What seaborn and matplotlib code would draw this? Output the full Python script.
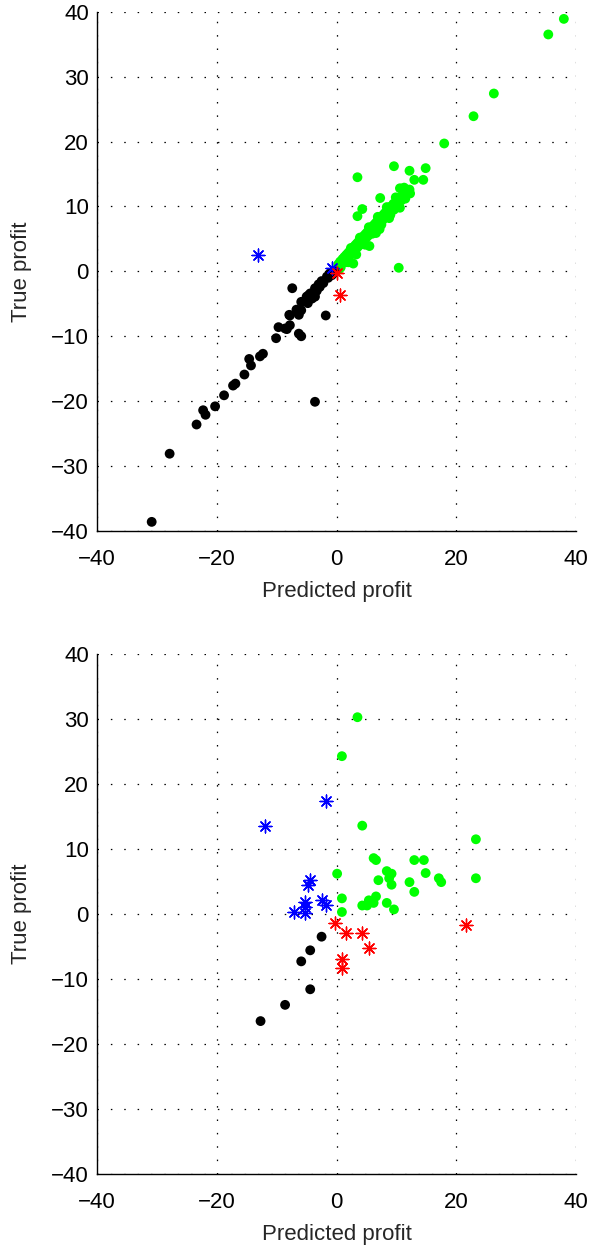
import matplotlib
matplotlib.use("Agg")
import matplotlib.pyplot as plt
import seaborn as sns
import pandas as pd

# ---------------- data: top panel ----------------
top_green_x = [38.0, 35.4, 26.3, 22.9, 18.0, 9.6, 12.2, 14.9, 13.0, 14.5, 3.5, 10.6,
               12.3, 11.5, 7.3, 4.3, 3.5, 9.6, 10.4, 2.8, 5.5,
               0.3, 0.5, 0.6, 0.8, 1.0, 1.1, 1.3, 1.4, 1.6, 1.7, 1.9, 2.0, 2.2, 2.3,
               2.5, 2.6, 2.8, 2.9, 3.1, 3.2, 3.4, 3.5, 3.7, 3.8, 4.0, 4.1, 4.3, 4.4,
               4.6, 4.7, 4.9, 5.0, 5.2, 5.3, 5.5, 5.6, 5.8, 5.9, 6.1, 6.2, 6.4, 6.5,
               6.7, 6.8, 7.0, 7.1, 7.3, 7.4, 7.6, 7.7, 7.9, 8.0, 8.2, 8.3, 8.5, 8.6,
               8.8, 8.9, 9.1, 9.2, 9.5, 9.7, 10.0, 10.2, 10.5, 10.8, 11.1, 11.5,
               11.8, 12.2, 9.0, 7.5, 6.0, 4.5, 3.0, 1.5, 0.2, 0.4, 0.7, 8.8, 6.6,
               2.4, 3.9, 5.4, 6.9, 8.4, 9.9, 11.3, 4.8, 7.2, 10.6, 2.0, 3.3]
top_green_y = [38.9, 36.5, 27.4, 23.9, 19.7, 16.2, 15.5, 15.9, 14.1, 14.1, 14.5, 12.8,
               12.0, 11.2, 11.3, 9.6, 8.5, 9.5, 0.55, 1.2, 3.9,
               1.1, 0.8, 1.5, 1.2, 1.9, 1.4, 2.2, 1.7, 2.5, 1.9, 2.8, 2.3, 3.1, 2.5,
               3.4, 2.8, 3.7, 3.1, 4.0, 3.4, 4.3, 3.7, 4.6, 4.0, 4.9, 4.3, 5.2, 4.6,
               5.5, 4.9, 5.8, 5.2, 6.1, 5.5, 6.4, 5.8, 6.7, 6.1, 7.0, 6.4, 7.3, 6.7,
               7.6, 7.0, 7.9, 7.3, 8.2, 7.6, 8.5, 7.9, 8.8, 8.2, 9.1, 8.5, 9.4, 8.8,
               9.7, 9.1, 10.0, 9.4, 10.4, 9.8, 10.8, 10.3, 11.3, 10.9, 11.8, 12.4,
               12.0, 12.6, 8.7, 7.2, 5.8, 4.4, 2.9, 1.4, 0.5, 0.3, 0.6, 8.2, 5.9,
               3.6, 5.2, 6.8, 8.4, 9.9, 11.4, 12.9, 4.1, 6.5, 9.8, 1.4, 2.6]

top_black_x = [-30.9, -27.9, -23.4, -21.9, -22.3, -20.3, -18.8, -17.3, -16.9, -15.4,
               -14.3, -14.6, -12.8, -12.3, -10.1, -9.7, -8.3, -7.8, -7.8, -6.3, -5.9,
               -6.3, -6.7, -5.9, -5.9, -7.4, -4.8, -4.7, -3.6, -3.6, -3.0, -2.2, -1.6,
               -1.1, -1.8, -3.6, -8.6, -7.9, -6.4, -5.0, -4.4, -2.8, -2.5, -1.4,
               -0.8, -0.5, -0.3, -4.1, -3.3]
top_black_y = [-38.6, -28.1, -23.6, -22.1, -21.4, -20.8, -19.1, -17.6, -17.3, -15.9,
               -14.5, -13.5, -13.1, -12.7, -10.3, -8.6, -8.9, -8.3, -6.8, -9.6, -10.0,
               -6.7, -5.9, -6.0, -4.7, -2.6, -4.9, -3.7, -3.9, -2.6, -2.0, -1.8, -0.8,
               -0.3, -6.8, -20.1, -8.8, -6.7, -6.2, -3.9, -3.4, -2.4, -1.5, -1.0,
               -0.6, -0.3, 0.0, -4.2, -3.0]

top_blue_x = [-13.1, -0.7]
top_blue_y = [2.5, 0.55]
top_red_x = [0.1, 0.5]
top_red_y = [-0.2, -3.7]

# ---------------- data: bottom panel ----------------
bot_green_x = [3.5, 0.9, 4.3, 23.3, 23.3, 6.2, 6.6, 13.0, 14.6, 0.1, 8.4, 9.2, 14.9,
               7.0, 8.8, 9.2, 12.2, 17.1, 17.5, 13.0, 0.9, 6.6, 5.4, 4.3, 5.1, 6.2,
               8.4, 9.6, 0.9]
bot_green_y = [30.3, 24.3, 13.6, 11.5, 5.5, 8.6, 8.3, 8.3, 8.3, 6.2, 6.6, 6.2, 6.3,
               5.2, 5.5, 4.5, 4.9, 5.5, 4.9, 3.4, 2.4, 2.7, 2.1, 1.3, 1.3, 1.7,
               1.7, 0.7, 0.3]

bot_blue_x = [-1.7, -12.0, -4.4, -4.8, -5.2, -5.2, -2.5, -1.7, -7.1, -5.2]
bot_blue_y = [17.4, 13.6, 5.2, 4.5, 1.8, 1.0, 2.1, 1.4, 0.3, 0.15]

bot_red_x = [-0.25, 1.6, 4.3, 5.5, 0.9, 0.9, 21.7]
bot_red_y = [-1.4, -2.9, -2.9, -5.3, -6.9, -8.4, -1.7]

bot_black_x = [-2.5, -4.4, -5.9, -4.4, -8.6, -12.7]
bot_black_y = [-3.5, -5.6, -7.3, -11.6, -14.0, -16.5]

ticks_x = [-40, -20, 0, 20, 40]
ticks_y = [-40, -30, -20, -10, 0, 10, 20, 30, 40]

# ---------------- style ----------------
sns.set_style("white")
plt.rcParams['font.family'] = ['Liberation Sans', 'DejaVu Sans']
plt.rcParams['axes.unicode_minus'] = True

fig = plt.figure(figsize=(5.93, 12.49), dpi=100)
ax1 = fig.add_axes([0.164, 0.5749, 0.807, 0.4157])
ax2 = fig.add_axes([0.164, 0.0603, 0.807, 0.4159])

GREEN = "#00ff00"
DOT_S = 50
STAR_S = 85
STAR = (8, 2, 0)
FS = 16


def dots(ax, xs, ys, color):
    df = pd.DataFrame({"x": xs, "y": ys})
    sns.scatterplot(data=df, x="x", y="y", color=color, marker="o", s=DOT_S,
                    edgecolor="none", linewidth=0, ax=ax, zorder=3)


def stars(ax, xs, ys, color):
    df = pd.DataFrame({"x": xs, "y": ys})
    sns.scatterplot(data=df, x="x", y="y", color=color, marker=STAR, s=STAR_S,
                    linewidth=1.0, ax=ax, zorder=4)


dots(ax1, top_green_x, top_green_y, GREEN)
dots(ax1, top_black_x, top_black_y, "black")
stars(ax1, top_blue_x, top_blue_y, "blue")
stars(ax1, top_red_x, top_red_y, "red")

dots(ax2, bot_green_x, bot_green_y, GREEN)
dots(ax2, bot_black_x, bot_black_y, "black")
stars(ax2, bot_blue_x, bot_blue_y, "blue")
stars(ax2, bot_red_x, bot_red_y, "red")

for ax in (ax1, ax2):
    ax.set_xlim(-40, 40)
    ax.set_ylim(-40, 40)
    ax.set_xticks(ticks_x)
    ax.set_yticks(ticks_y)
    ax.grid(True, color="black", linestyle=(0, (1.2, 9.5)), linewidth=0.9)
    ax.set_axisbelow(True)
    for side in ("top", "right"):
        ax.spines[side].set_visible(False)
    for side in ("left", "bottom"):
        ax.spines[side].set_color("black")
        ax.spines[side].set_linewidth(1.0)
    ax.tick_params(axis="both", direction="in", length=4, width=0.8,
                   colors="black", labelsize=FS)
    ax.tick_params(axis="x", pad=13)
    ax.tick_params(axis="y", pad=6)
    ax.set_xlabel("Predicted profit", fontsize=FS)
    ax.set_ylabel("True profit", fontsize=FS)
    ax.xaxis.set_label_coords(0.5, -0.097)
    ax.yaxis.set_label_coords(-0.136, 0.5)

fig.savefig("out.png", dpi=100)
